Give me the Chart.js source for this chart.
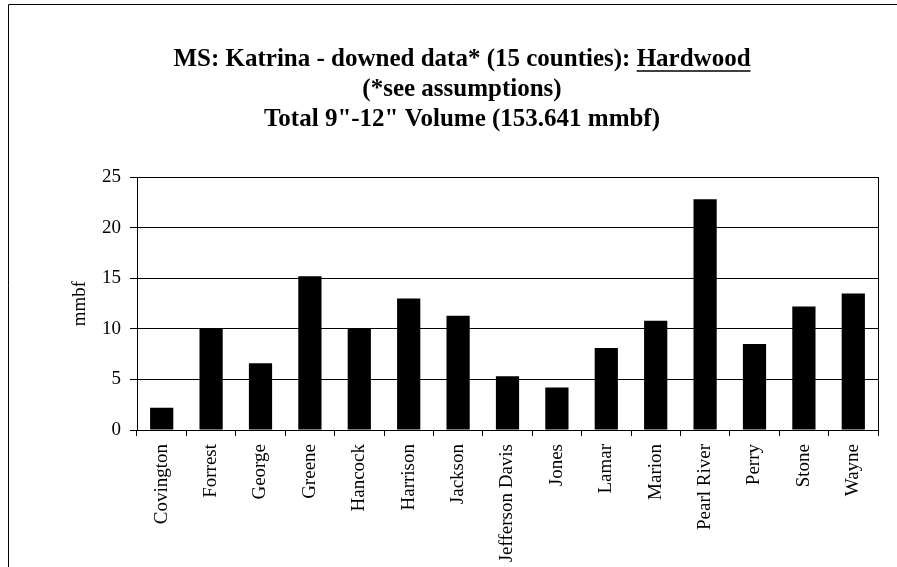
<!DOCTYPE html>
<html>
<head>
<meta charset="utf-8">
<script src="https://cdn.jsdelivr.net/npm/chart.js@4/dist/chart.umd.min.js"></script>
<style>
  html, body { margin: 0; padding: 0; background: #fff; }
  #wrap { width: 897px; height: 567px; position: relative; }
</style>
</head>
<body>
<div id="wrap"><canvas id="myChart"></canvas></div>
<script>
const counties = ['Covington', 'Forrest', 'George', 'Greene', 'Hancock', 'Harrison', 'Jackson',
  'Jefferson Davis', 'Jones', 'Lamar', 'Marion', 'Pearl River', 'Perry', 'Stone', 'Wayne'];
const volume = [2.2, 10.0, 6.6, 15.2, 10.0, 13.0, 11.3, 5.3, 4.2, 8.1, 10.8, 22.8, 8.5, 12.2, 13.5];
const titleLines = ['MS: Katrina - downed data* (15 counties): ', '(*see assumptions)', 'Total 9"-12" Volume (153.641 mmbf)'];
const titleUnderlined = 'Hardwood';
const yTicks = [0, 5, 10, 15, 20, 25];

const serif = '"Liberation Serif", "Times New Roman", serif';

// frame, plot box and the three-line title
const decor = {
  id: 'decor',
  afterDraw(chart) {
    const ctx = chart.ctx;
    const a = chart.chartArea;
    ctx.save();
    ctx.strokeStyle = '#000';
    ctx.lineWidth = 1;
    ctx.beginPath();
    ctx.moveTo(8.5, 567);
    ctx.lineTo(8.5, 4.5);
    ctx.lineTo(897, 4.5);
    ctx.stroke();
    ctx.strokeRect(Math.round(a.left) + 0.5, Math.round(a.top) + 0.5,
      Math.round(a.right - a.left), Math.round(a.bottom - a.top));

    ctx.fillStyle = '#000';
    ctx.font = 'bold 25px ' + serif;
    ctx.textBaseline = 'alphabetic';
    const cx = 462;
    const full = titleLines[0] + titleUnderlined;
    const w = ctx.measureText(full).width;
    const x0 = cx - w / 2;
    ctx.textAlign = 'left';
    ctx.fillText(full, x0, 66);
    const ux = x0 + ctx.measureText(titleLines[0]).width;
    const uw = ctx.measureText(titleUnderlined).width;
    ctx.lineWidth = 1.5;
    ctx.beginPath();
    ctx.moveTo(ux, 71);
    ctx.lineTo(ux + uw, 71);
    ctx.stroke();
    ctx.textAlign = 'center';
    ctx.fillText(titleLines[1], cx, 96);
    ctx.fillText(titleLines[2], cx, 126);
    ctx.restore();
  }
};

new Chart(document.getElementById('myChart').getContext('2d'), {
  type: 'bar',
  data: {
    labels: counties,
    datasets: [{
      label: 'mmbf',
      data: volume,
      backgroundColor: '#000',
      borderWidth: 0,
      barPercentage: 0.47,
      categoryPercentage: 1
    }]
  },
  options: {
    responsive: true,
    maintainAspectRatio: false,
    animation: false,
    layout: { padding: { left: 0, right: 19, top: 177, bottom: 0 } },
    plugins: { legend: { display: false }, tooltip: { enabled: false } },
    scales: {
      x: {
        offset: true,
        grid: { display: true, drawOnChartArea: false, color: '#000', tickLength: 6, offset: true },
        border: { color: '#000' },
        ticks: { color: '#000', font: { family: serif, size: 19 }, minRotation: 90, maxRotation: 90, padding: 8, autoSkip: false },
        afterFit(s) { s.height = 137; }
      },
      y: {
        min: 0,
        max: 25,
        afterBuildTicks(s) { s.ticks = yTicks.map(v => ({ value: v })); },
        grid: { color: '#000', tickLength: 7 },
        border: { color: '#000' },
        ticks: { color: '#000', font: { family: serif, size: 19 }, padding: 9 },
        title: { display: true, text: 'mmbf', color: '#000', font: { family: serif, size: 19 }, padding: { top: 69, bottom: 0 } },
        afterFit(s) { s.width = 137; }
      }
    }
  },
  plugins: [decor]
});
</script>
</body>
</html>
